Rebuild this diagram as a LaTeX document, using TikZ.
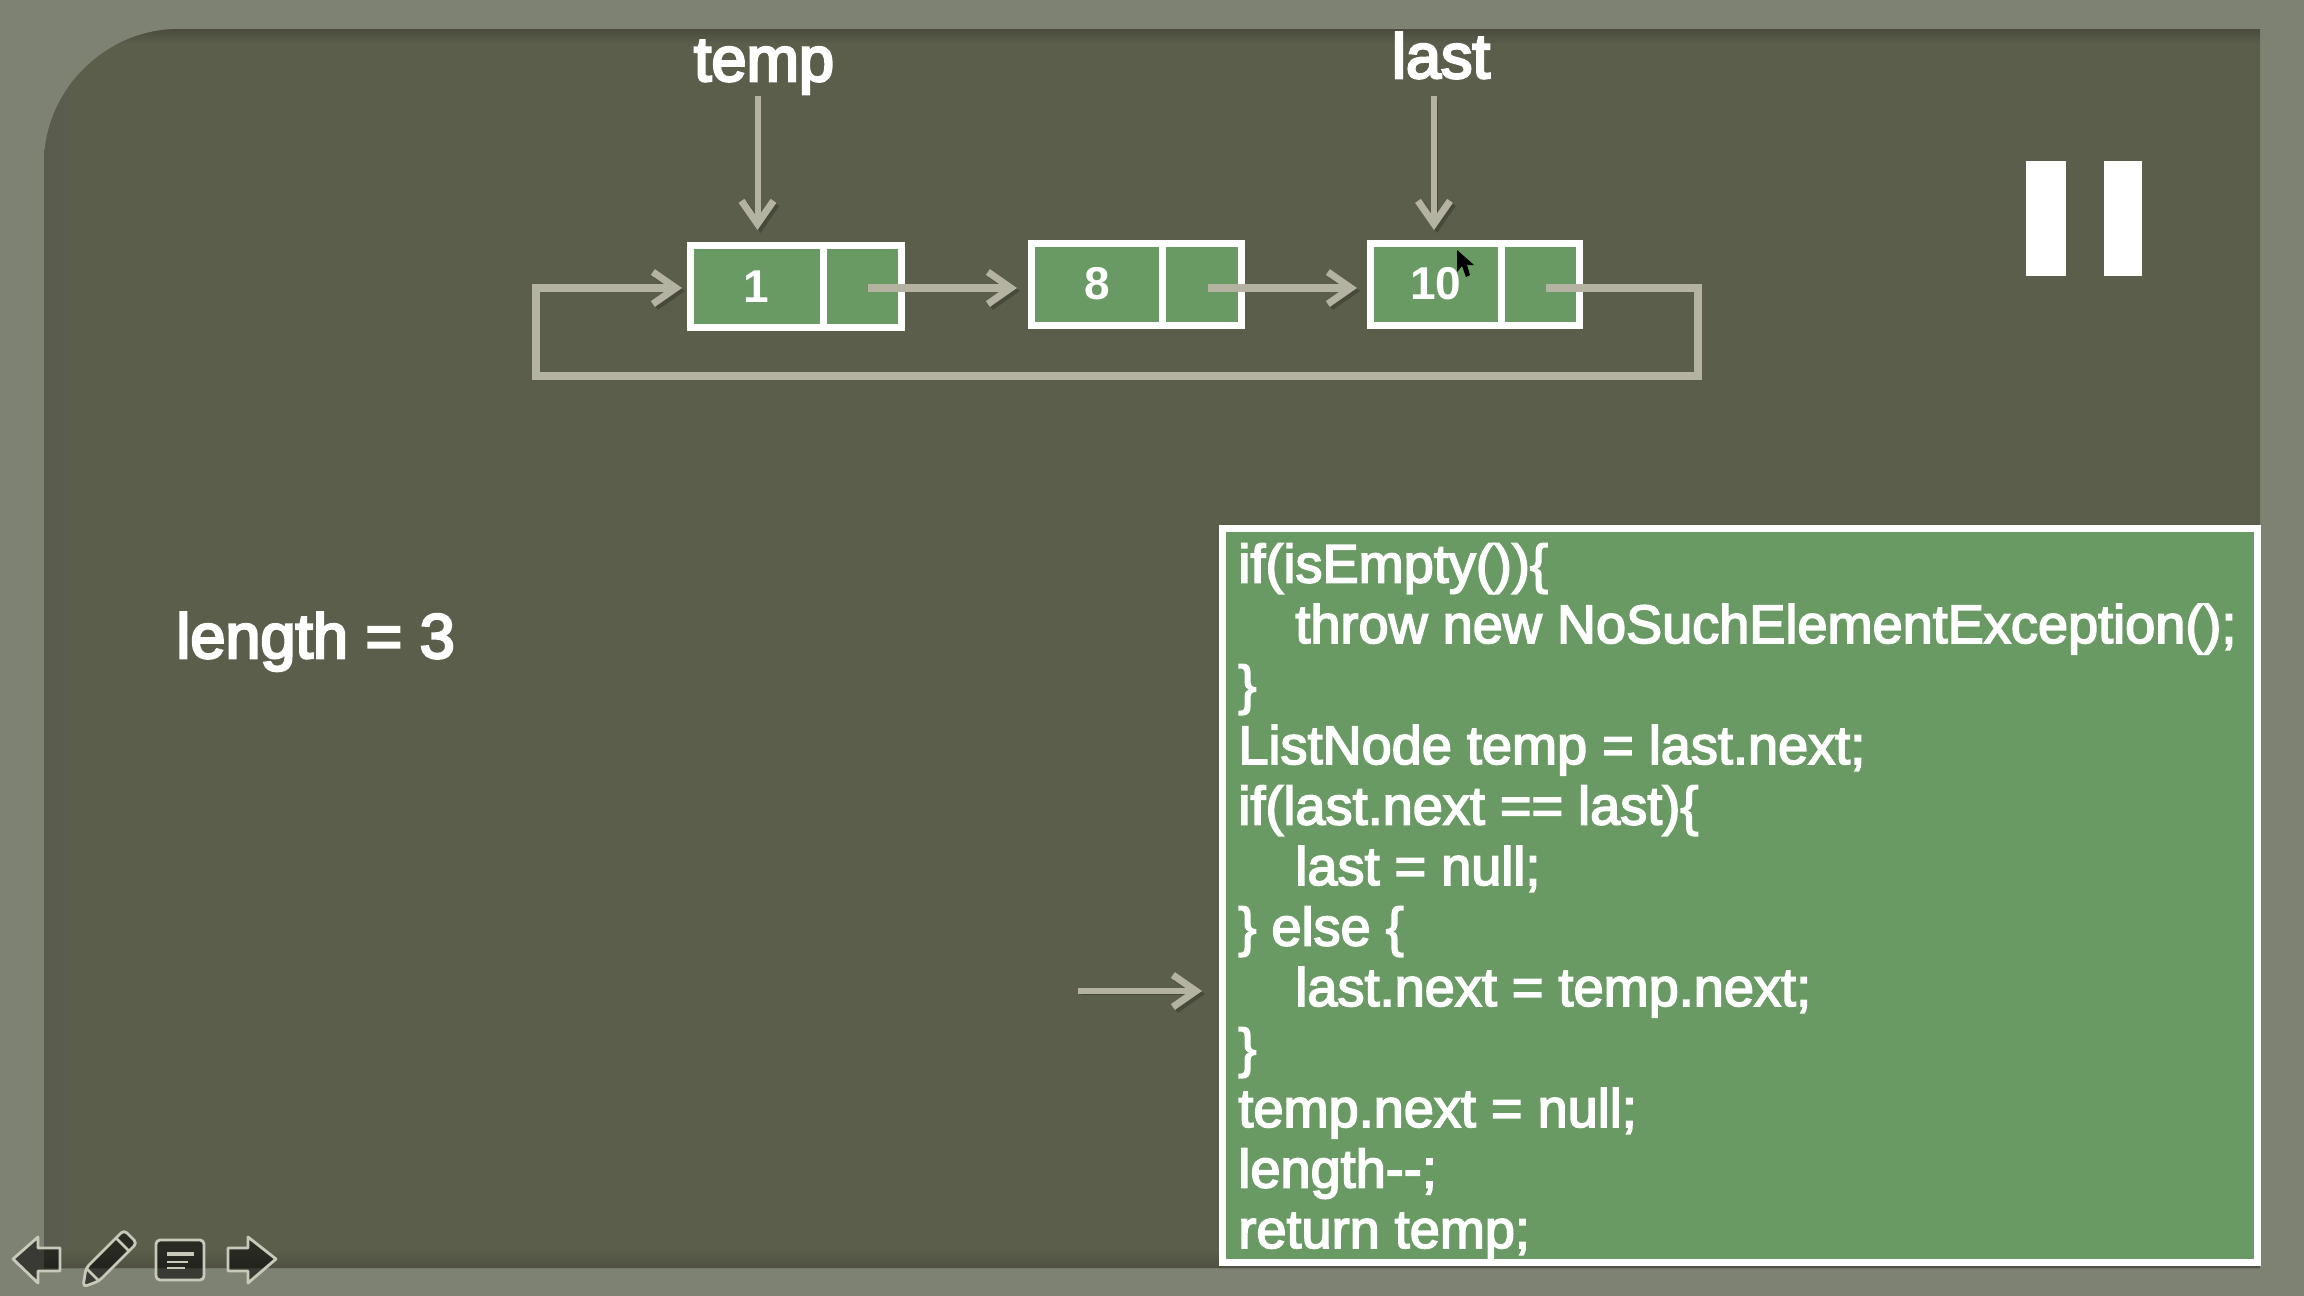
\documentclass[tikz,border=0pt]{standalone}
\usepackage{fontspec}
\setmainfont{Liberation Sans}
\newfontfamily\textfat{Liberation Sans}[FakeBold=3]
\newfontfamily\labelfat{Liberation Sans}[FakeBold=4]
\usetikzlibrary{arrows.meta,calc}
\definecolor{frameC}{HTML}{7E8272}
\definecolor{panelC}{HTML}{5C5E4C}
\definecolor{greenC}{HTML}{699A63}
\definecolor{arrowC}{HTML}{B4B3A1}
\definecolor{iconC}{HTML}{C9C9BA}
\tikzset{
  x=0.5pt,y=-0.5pt,
  cell/.style={draw=white,fill=greenC,line width=3.5pt,minimum height=41pt,inner sep=0pt,outer sep=0pt,
    text=white,font=\bfseries\fontsize{23}{25}\selectfont},
  conn/.style={draw=arrowC,line width=#1,
    -{Straight Barb[length=11.5pt,width=16pt,line width=3.5pt]},
    preaction={draw=black,draw opacity=.22,-{Straight Barb[length=11.5pt,width=16pt,line width=3.5pt]},transform canvas={shift={(1.5pt,-1.5pt)}}}},
  label/.style={text=white,anchor=base,inner sep=0pt,font=\labelfat\fontsize{31.5}{34}\selectfont},
  bar/.style={fill=white,draw=none},
  icon/.style={draw=iconC,line width=1.4pt,line join=round,fill=black,fill opacity=.55},
}
\begin{document}
\begin{tikzpicture}
\useasboundingbox (0,0) rectangle (2304,1296);
% slide background
\fill[frameC] (0,0) rectangle (2304,1296);
\begin{scope}
  \clip (44,164) .. controls (44,90) and (105,29) .. (179,29) -- (2260,29) -- (2260,1268) -- (44,1268) -- cycle;
  \fill[panelC] (0,0) rectangle (2304,1296);
  \shade[left color=black!30!frameC,right color=panelC] (44,29) rectangle (78,1268);
  \shade[top color=black!20!panelC,bottom color=panelC] (44,29) rectangle (2260,44);
  \shade[top color=panelC,bottom color=black!16!panelC] (44,1250) rectangle (2260,1268);
\end{scope}

% list cells
\node[cell,minimum width=66.25pt] (n1a) at (756.75,286.5) {1};
\node[cell,minimum width=39.25pt] (n1b) at (862.25,286.5) {};
\node[cell,minimum width=65.5pt] (n2a) at (1097,284) {8};
\node[cell,minimum width=39.5pt] (n2b) at (1202,284) {};
\node[cell,minimum width=65.25pt] (n3a) at (1435.75,284) {10};
\node[cell,minimum width=39.25pt] (n3b) at (1540.25,284) {};

% labels
\node[label] (temp) at (764,81) {temp};
\node[label] (last) at (1441,78) {last};
\node[label,anchor=base west] (len) at (176,658) {length = 3};

% pause bars
\node[bar,minimum width=20pt,minimum height=57.5pt,inner sep=0pt,outer sep=0pt] (p1) at (2046,218.5) {};
\node[bar,minimum width=19pt,minimum height=57.5pt,inner sep=0pt,outer sep=0pt] (p2) at (2123,218.5) {};

% code box
\node[draw=white,fill=greenC,line width=3.5pt,minimum width=517.5pt,minimum height=367pt,inner sep=0pt,outer sep=0pt] (code) at (1739.5,895) {};
\node[anchor=base west,align=left,inner sep=0pt,text=white,font=\textfat\fontsize{27.05}{30.25}\selectfont] (codetext) at (1238,1248)
{if(isEmpty()){\{}\\
\hspace*{28.5pt}throw new NoSuchElementException();\\
\}\\
ListNode temp = last.next;\\
if(last.next == last){\{}\\
\hspace*{28.5pt}last = null;\\
\} else \{\\
\hspace*{28.5pt}last.next = temp.next;\\
\}\\
temp.next = null;\\
length-{}-;\\
return temp;};

% connectors
\coordinate (tempfoot) at (757.5,96);
\coordinate (lastfoot) at (1434,96);
\coordinate (pointer) at (1078,991);
\coordinate (loopR) at (1698,376);
\coordinate (loopL) at (536,376);
\draw[conn=3pt,shorten >=7.75pt] (tempfoot) -- (tempfoot |- n1a.north);
\draw[conn=3pt,shorten >=6.5pt] (lastfoot) -- (lastfoot |- n3a.north);
\draw[conn=4pt] ([shift={(6,1.5)}]n1b.center) -- ([shift={(-14.5,4)}]n2a.west);
\draw[conn=4pt] ([shift={(6,4)}]n2b.center) -- ([shift={(-13.5,4)}]n3a.west);
\draw[conn=4pt] ([shift={(6,4)}]n3b.center) -| (loopR) -- (loopL) |- ([shift={(-8.5,1.5)}]n1a.west);
\draw[conn=3pt,shorten >=10pt] (pointer) -- (pointer -| code.west);

% mouse cursor
\fill[black] (1457,250) -- (1457,272) -- (1462,266) -- (1466,277) -- (1470,275) -- (1467,265) -- (1474,265) -- cycle;

% slide-show controls
\draw[icon] (13,1259) -- (38,1237) -- (38,1248) -- (60,1248) -- (60,1271) -- (38,1271) -- (38,1283) -- cycle;
\draw[icon] (276,1259) -- (248,1237) -- (248,1248) -- (228,1248) -- (228,1271) -- (248,1271) -- (248,1283) -- cycle;
\draw[icon,rounded corners=2pt] (83,1287) -- (86,1268) -- (124,1230) -- (137,1243) -- (99,1281) -- cycle;
\draw[iconC,line width=1.4pt] (86,1268) -- (99,1281) (116,1238) -- (129,1251);
\draw[icon,rounded corners=2pt] (156,1240) rectangle (204,1280);
\draw[iconC,line width=2pt] (167,1253.5) -- (194,1253.5);
\draw[iconC,line width=1.2pt] (167,1262) -- (188,1262) (167,1268) -- (185,1268);
\end{tikzpicture}
\end{document}
